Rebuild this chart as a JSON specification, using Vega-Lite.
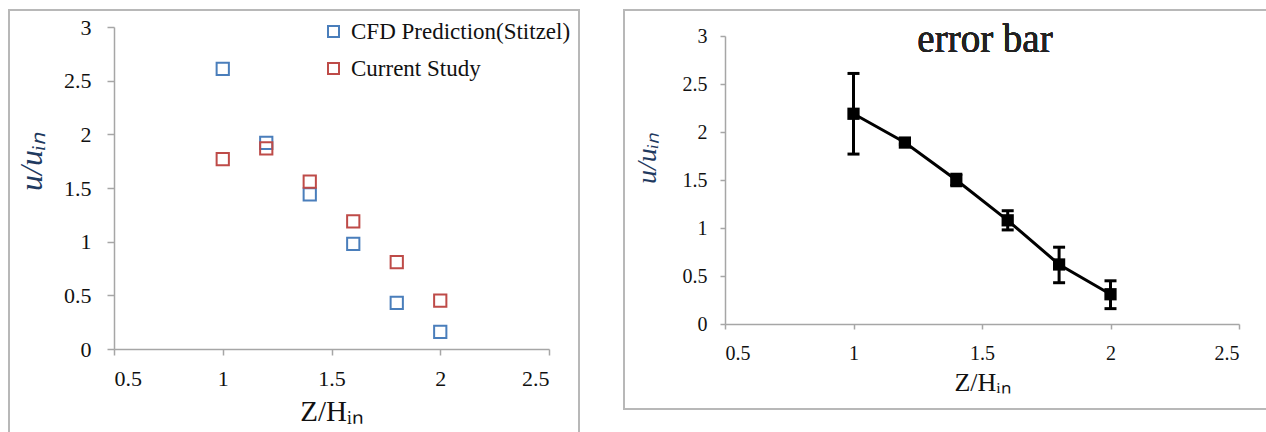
{
  "$schema": "https://vega.github.io/schema/vega-lite/v6.json",
  "background": "white",
  "padding": {"left": 8, "top": 9, "right": 0, "bottom": 0},
  "spacing": 43,
  "config": {
    "view": {"stroke": "#b8b8b8", "strokeWidth": 2},
    "axis": {
      "grid": false,
      "domainColor": "#a6a6a6",
      "tickColor": "#a6a6a6",
      "domainWidth": 1.5,
      "tickWidth": 1.5,
      "labelFont": "Liberation Serif",
      "labelColor": "#111111",
      "titleFont": "Liberation Serif",
      "titleFontWeight": "normal",
      "titleColor": "#111111",
      "format": "~g"
    }
  },
  "datasets": {
    "profiles": [
      {"z": 1.0, "u": 2.61, "series": "CFD Prediction(Stitzel)"},
      {"z": 1.2, "u": 1.92, "series": "CFD Prediction(Stitzel)"},
      {"z": 1.4, "u": 1.44, "series": "CFD Prediction(Stitzel)"},
      {"z": 1.6, "u": 0.98, "series": "CFD Prediction(Stitzel)"},
      {"z": 1.8, "u": 0.43, "series": "CFD Prediction(Stitzel)"},
      {"z": 2.0, "u": 0.16, "series": "CFD Prediction(Stitzel)"},
      {"z": 1.0, "u": 1.77, "series": "Current Study"},
      {"z": 1.2, "u": 1.87, "series": "Current Study"},
      {"z": 1.4, "u": 1.56, "series": "Current Study"},
      {"z": 1.6, "u": 1.19, "series": "Current Study"},
      {"z": 1.8, "u": 0.81, "series": "Current Study"},
      {"z": 2.0, "u": 0.45, "series": "Current Study"}
    ],
    "errors": [
      {"z": 1.0, "u": 2.19, "lo": 1.77, "hi": 2.61},
      {"z": 1.2, "u": 1.89, "lo": 1.87, "hi": 1.92},
      {"z": 1.4, "u": 1.50, "lo": 1.44, "hi": 1.56},
      {"z": 1.6, "u": 1.08, "lo": 0.98, "hi": 1.18},
      {"z": 1.8, "u": 0.62, "lo": 0.43, "hi": 0.80},
      {"z": 2.0, "u": 0.31, "lo": 0.16, "hi": 0.45}
    ]
  },
  "hconcat": [
    {
      "width": 570,
      "height": 440,
      "data": {"name": "profiles"},
      "mark": {"type": "point", "shape": "square", "filled": false, "size": 150, "strokeWidth": 2, "opacity": 1},
      "encoding": {
        "x": {
          "field": "z", "type": "quantitative",
          "scale": {"domain": [0.5, 2.5], "range": [105, 540], "nice": false, "zero": false},
          "axis": {
            "values": [0.5, 1, 1.5, 2, 2.5],
            "offset": -101,
            "tickSize": 6,
            "labelFontSize": 22,
            "labelBaseline": "alphabetic",
            "labelPadding": 30,
            "title": "Z/Hᵢₙ",
            "titleFontSize": 29,
            "titleBaseline": "alphabetic",
            "titleY": 71
          }
        },
        "y": {
          "field": "u", "type": "quantitative",
          "scale": {"domain": [0, 3], "range": [339, 17], "nice": false, "zero": false},
          "axis": {
            "values": [0, 0.5, 1, 1.5, 2, 2.5, 3],
            "offset": -105,
            "tickSize": 7,
            "labelFontSize": 22,
            "labelPadding": 16,
            "title": "u/uᵢₙ",
            "titleFontSize": 32,
            "titleFontStyle": "italic",
            "titleColor": "#1f3a60",
            "titleAngle": 270,
            "titleAlign": "center",
            "titleBaseline": "middle",
            "titleX": -83,
            "titleY": 151
          }
        },
        "color": {
          "field": "series", "type": "nominal",
          "scale": {"domain": ["CFD Prediction(Stitzel)", "Current Study"], "range": ["#4a7ebb", "#be4b48"]},
          "legend": {
            "orient": "none",
            "legendX": 313,
            "legendY": 10,
            "title": null,
            "padding": 0,
            "symbolType": "square",
            "symbolSize": 121,
            "symbolStrokeWidth": 2,
            "labelFont": "Liberation Serif",
            "labelFontSize": 23,
            "labelColor": "#111111",
            "labelOffset": 6,
            "labelLimit": 400,
            "rowPadding": 13
          }
        }
      }
    },
    {
      "width": 659,
      "height": 399,
      "data": {"name": "errors"},
      "encoding": {
        "x": {
          "field": "z", "type": "quantitative",
          "scale": {"domain": [0.5, 2.5], "range": [101, 615], "nice": false, "zero": false},
          "axis": {
            "values": [0.5, 1, 1.5, 2, 2.5],
            "offset": -85,
            "tickSize": 5,
            "labelFontSize": 20,
            "labelBaseline": "alphabetic",
            "labelPadding": 30,
            "title": "Z/Hᵢₙ",
            "titleFontSize": 26,
            "titleBaseline": "alphabetic",
            "titleY": 66
          }
        }
      },
      "layer": [
        {
          "mark": {"type": "rule", "color": "black", "strokeWidth": 3},
          "encoding": {
            "y": {
              "field": "lo", "type": "quantitative",
              "scale": {"domain": [0, 3], "range": [314, 26], "nice": false, "zero": false},
              "axis": {
                "values": [0, 0.5, 1, 1.5, 2, 2.5, 3],
                "offset": -101,
                "tickSize": 5,
                "labelFontSize": 20,
                "labelPadding": 13,
                "title": "u/uᵢₙ",
                "titleFontSize": 28,
                "titleFontStyle": "italic",
                "titleColor": "#1f3a60",
                "titleAngle": 270,
                "titleAlign": "center",
                "titleBaseline": "middle",
                "titleX": -78,
                "titleY": 148
              }
            },
            "y2": {"field": "hi"}
          }
        },
        {
          "mark": {"type": "tick", "orient": "horizontal", "color": "black", "size": 12, "thickness": 3, "opacity": 1},
          "encoding": {"y": {"field": "lo", "type": "quantitative"}}
        },
        {
          "mark": {"type": "tick", "orient": "horizontal", "color": "black", "size": 12, "thickness": 3, "opacity": 1},
          "encoding": {"y": {"field": "hi", "type": "quantitative"}}
        },
        {
          "mark": {"type": "line", "color": "black", "strokeWidth": 3},
          "encoding": {"y": {"field": "u", "type": "quantitative"}}
        },
        {
          "mark": {"type": "point", "shape": "square", "filled": true, "color": "black", "size": 150, "opacity": 1},
          "encoding": {"y": {"field": "u", "type": "quantitative"}}
        },
        {
          "mark": {"type": "text", "text": "error bar", "font": "Liberation Serif", "fontSize": 39, "color": "#222222", "baseline": "alphabetic", "align": "center", "dx": 3},
          "encoding": {
            "x": {"datum": 1.5, "type": "quantitative"},
            "y": {"datum": 2.83, "type": "quantitative"}
          }
        }
      ]
    }
  ]
}
